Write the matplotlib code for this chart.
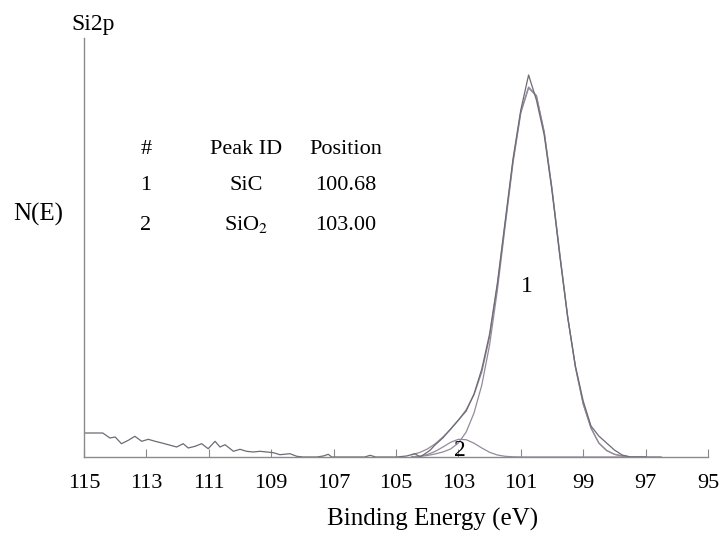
import matplotlib.pyplot as plt

plt.rcParams['font.family'] = ['Liberation Serif', 'DejaVu Serif']
plt.rcParams['mathtext.fontset'] = 'stix'

raw_be = [115.0, 114.4, 114.17, 114.0, 113.8, 113.58, 113.37, 113.15, 112.94, 112.72,
          112.5, 112.3, 112.03, 111.82, 111.66, 111.44, 111.23, 111.02, 110.8, 110.64,
          110.48, 110.21, 110.0, 109.79, 109.57, 109.36, 109.14, 108.93, 108.72, 108.4,
          108.18, 107.97, 107.75, 107.54, 107.33, 107.17, 107.06, 106.8, 106.0, 105.83,
          105.65, 105.2, 104.98, 104.66, 104.39, 104.23, 104.02, 103.91, 103.75, 103.5,
          103.25, 103.0, 102.75, 102.5, 102.25, 102.0, 101.75, 101.5, 101.25, 101.0,
          100.75, 100.5, 100.25, 100.0, 99.75, 99.5, 99.25, 99.0, 98.75, 98.5,
          98.25, 98.0, 97.75, 97.5, 97.0, 96.5]
raw_n = [24, 24, 19, 20, 13.3, 16.7, 20.7, 15.7, 17.7, 15.7,
         14, 12.3, 10, 13.3, 9, 10.7, 13.3, 8.3, 15.7, 10,
         12.3, 5.7, 7.7, 5.7, 5, 5.7, 5, 4.3, 2.3, 3.3,
         0.7, 0, 0, 0, 1, 2.7, 0, 0, 0, 1.7,
         0, 0, 0, 1, 3.3, 0, 4.3, 6.7, 12, 19,
         28, 37, 46, 63, 88, 123, 174, 236, 298, 347,
         382, 357, 322, 266, 201, 140, 91, 56, 31, 21,
         14, 7, 2, 0, 0, 0]

# fitted curves
fit_be = [104.5, 104.25, 104.0, 103.75, 103.5, 103.25, 103.0, 102.75, 102.5, 102.25,
          102.0, 101.75, 101.5, 101.25, 101.0, 100.75, 100.5, 100.25, 100.0, 99.75,
          99.5, 99.25, 99.0, 98.75, 98.5, 98.25, 98.0, 97.75, 97.5, 97.25, 97.0]
peak1 = [0, 0.5, 1.5, 3, 5, 8, 14, 25, 44, 72,
         112, 167, 231, 294, 344, 369, 361, 325, 268, 203,
         141, 90, 53, 29, 14, 6.5, 2.7, 1.0, 0.3, 0.1, 0]
peak2 = [0.3, 0.9, 2.4, 5.5, 9.9, 14.7, 17.7, 17.3, 13.8, 9.0,
         4.7, 2.0, 0.7, 0.2, 0.05, 0, 0, 0, 0, 0,
         0, 0, 0, 0, 0, 0, 0, 0, 0, 0, 0]
envelope = [2.3, 4.4, 7.9, 13.0, 19.9, 27.7, 36.7, 47.3, 62.3, 85,
            120.2, 172, 234.2, 296.2, 345.6, 370, 361.5, 325, 268, 203,
            141, 90, 53, 29, 14, 6.5, 2.7, 1.0, 0.3, 0.1, 0]

ticks = [115, 113, 111, 109, 107, 105, 103, 101, 99, 97, 95]

# peak table
cols = ['#', 'Peak ID', 'Position']
ids = ['1', '2']
names = ['SiC', 'SiO$_2$']
positions = ['100.68', '103.00']

fig = plt.figure(figsize=(7.2, 5.33), dpi=100)
ax = fig.add_axes([84/720, 1-457/533, 624/720, 419/533])

raw_col = '#6f6a74'
fit_col = '#938a9c'
ax.plot(fit_be, peak2, color=fit_col, lw=0.9)
ax.plot(fit_be, peak1, color=fit_col, lw=0.9)
ax.plot(fit_be, envelope, color=fit_col, lw=0.9)
ax.plot(raw_be, raw_n, color=raw_col, lw=0.9)

ax.set_xlim(115, 95)
ax.set_ylim(0, 419)
ax.set_xticks(ticks)
ax.set_xticklabels([str(t) for t in ticks])
ax.set_yticks([])
ax.tick_params(axis='x', direction='in', length=6, width=0.8, color='#8a8a8a',
               labelsize=16, pad=12)
for s in ['top', 'right']:
    ax.spines[s].set_visible(False)
for s in ['left', 'bottom']:
    ax.spines[s].set_color('#8a8a8a')
    ax.spines[s].set_linewidth(1.0)

# peak labels
ax.text(100.8, 170, '1', fontsize=17, ha='center', va='center')
ax.text(102.95, 7, '2', fontsize=17, ha='center', va='center')

# texts around the axes
fig.text(93/720, 1-30/533, 'Si2p', fontsize=17, ha='center', va='baseline')
fig.text(38/720, 1-214/533, 'N(E)', fontsize=18, ha='center', va='center')
fig.text(433/720, 1-526/533, 'Binding Energy (eV)', fontsize=18, ha='center', va='baseline')

col_x = [146, 246, 346]
for x, c in zip(col_x, cols):
    fig.text(x/720, 1-154/533, c, fontsize=16, ha='center', va='baseline')
row_y = [190, 230]
for y, i, n, p in zip(row_y, ids, names, positions):
    fig.text(col_x[0]/720, 1-y/533, i, fontsize=16, ha='center', va='baseline')
    fig.text(col_x[1]/720, 1-y/533, n, fontsize=16, ha='center', va='baseline')
    fig.text(col_x[2]/720, 1-y/533, p, fontsize=16, ha='center', va='baseline')

fig.savefig('out.png', dpi=100)
